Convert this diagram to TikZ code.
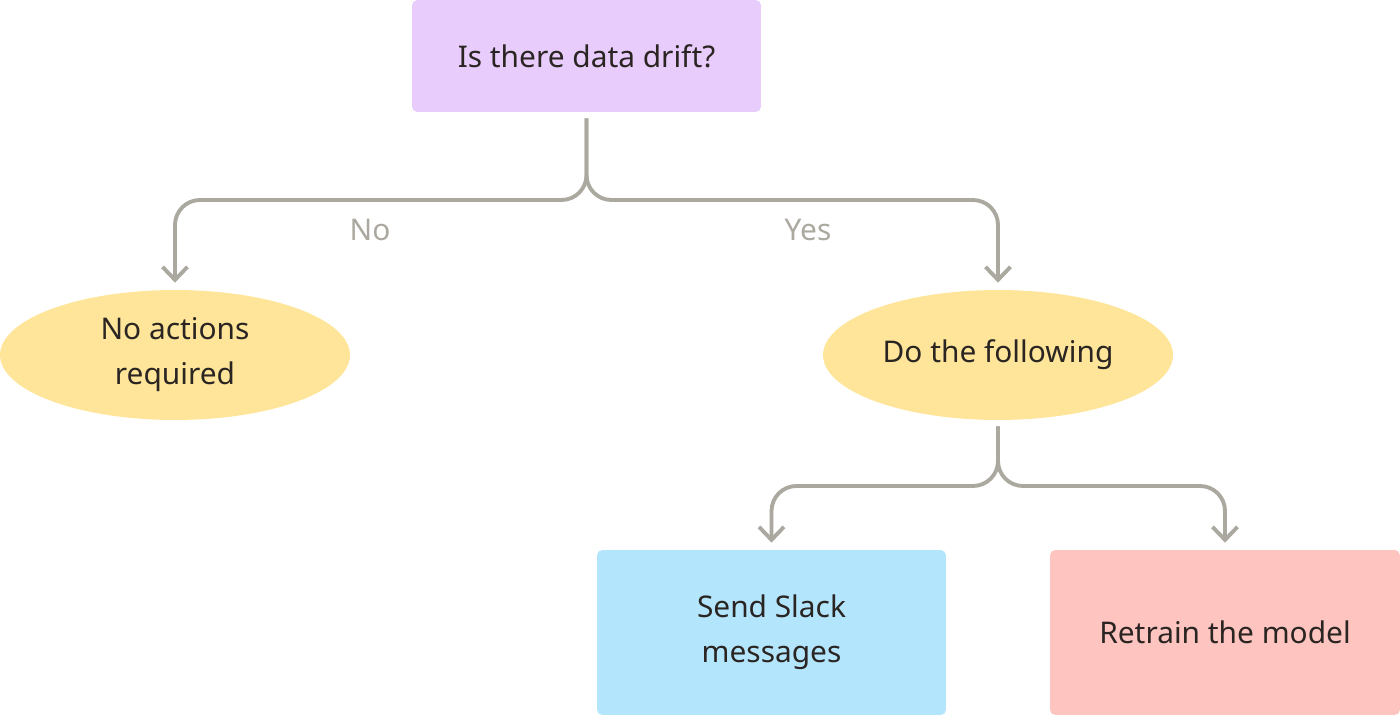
\documentclass[tikz,border=0pt]{standalone}
\usepackage{fontspec}
\setmainfont{Noto Sans}
\usetikzlibrary{arrows.meta,positioning,shapes.geometric}
\definecolor{ink}{HTML}{2A2522}
\definecolor{wire}{HTML}{ABA8A0}
\definecolor{lilac}{HTML}{E8CCFB}
\definecolor{sand}{HTML}{FEE599}
\definecolor{sky}{HTML}{B3E5FC}
\definecolor{blush}{HTML}{FEC4C0}
\tikzset{>={Straight Barb[length=2.6mm,width=5mm]}}

\begin{document}
\begin{tikzpicture}[x=0.02cm,y=-0.02cm,
    txt/.style={font=\fontsize{17}{25.6}\selectfont,text=ink,align=center},
    decbox/.style={txt,rectangle,rounded corners=3pt,inner sep=0pt},
    oval/.style={txt,ellipse,fill=sand,minimum width=7cm,minimum height=2.6cm,inner sep=0pt},
    flow/.style={draw=wire,line width=2.2pt,rounded corners=0.5cm,->,
        shorten <=0.12cm,shorten >=0.14cm},
    lbl/.style={font=\fontsize{17}{20}\selectfont,text=wire}]
    \useasboundingbox (0,0) rectangle (1400,715);

    \node[decbox,fill=lilac,minimum width=6.98cm,minimum height=2.24cm] (q) at (586.5,56) {Is there data drift?};
    \node[oval] (noact) at (175,355) {No actions\\required};
    \node[oval] (dofollow) at (998,355) {Do the following};
    \node[decbox,fill=sky,minimum width=6.98cm,minimum height=3.3cm] (slack) at (771.5,632.5) {Send Slack\\messages};
    \node[decbox,fill=blush,minimum width=7cm,minimum height=3.3cm] (retrain) at (1225,632.5) {Retrain the model};

    \coordinate (fork1) at (586.5,200);
    \coordinate (fork2) at (998,486);

    \draw[flow] (q.south) -- (fork1) -| (noact.north);
    \draw[flow] (q.south) -- (fork1) -| (dofollow.north);
    \draw[flow] (dofollow.south) -- (fork2) -| (slack.north);
    \draw[flow] (dofollow.south) -- (fork2) -| (retrain.north);

    \node[lbl] (no) at (370,230) {No};
    \node[lbl] (yes) at (808,230) {Yes};
\end{tikzpicture}
\end{document}
